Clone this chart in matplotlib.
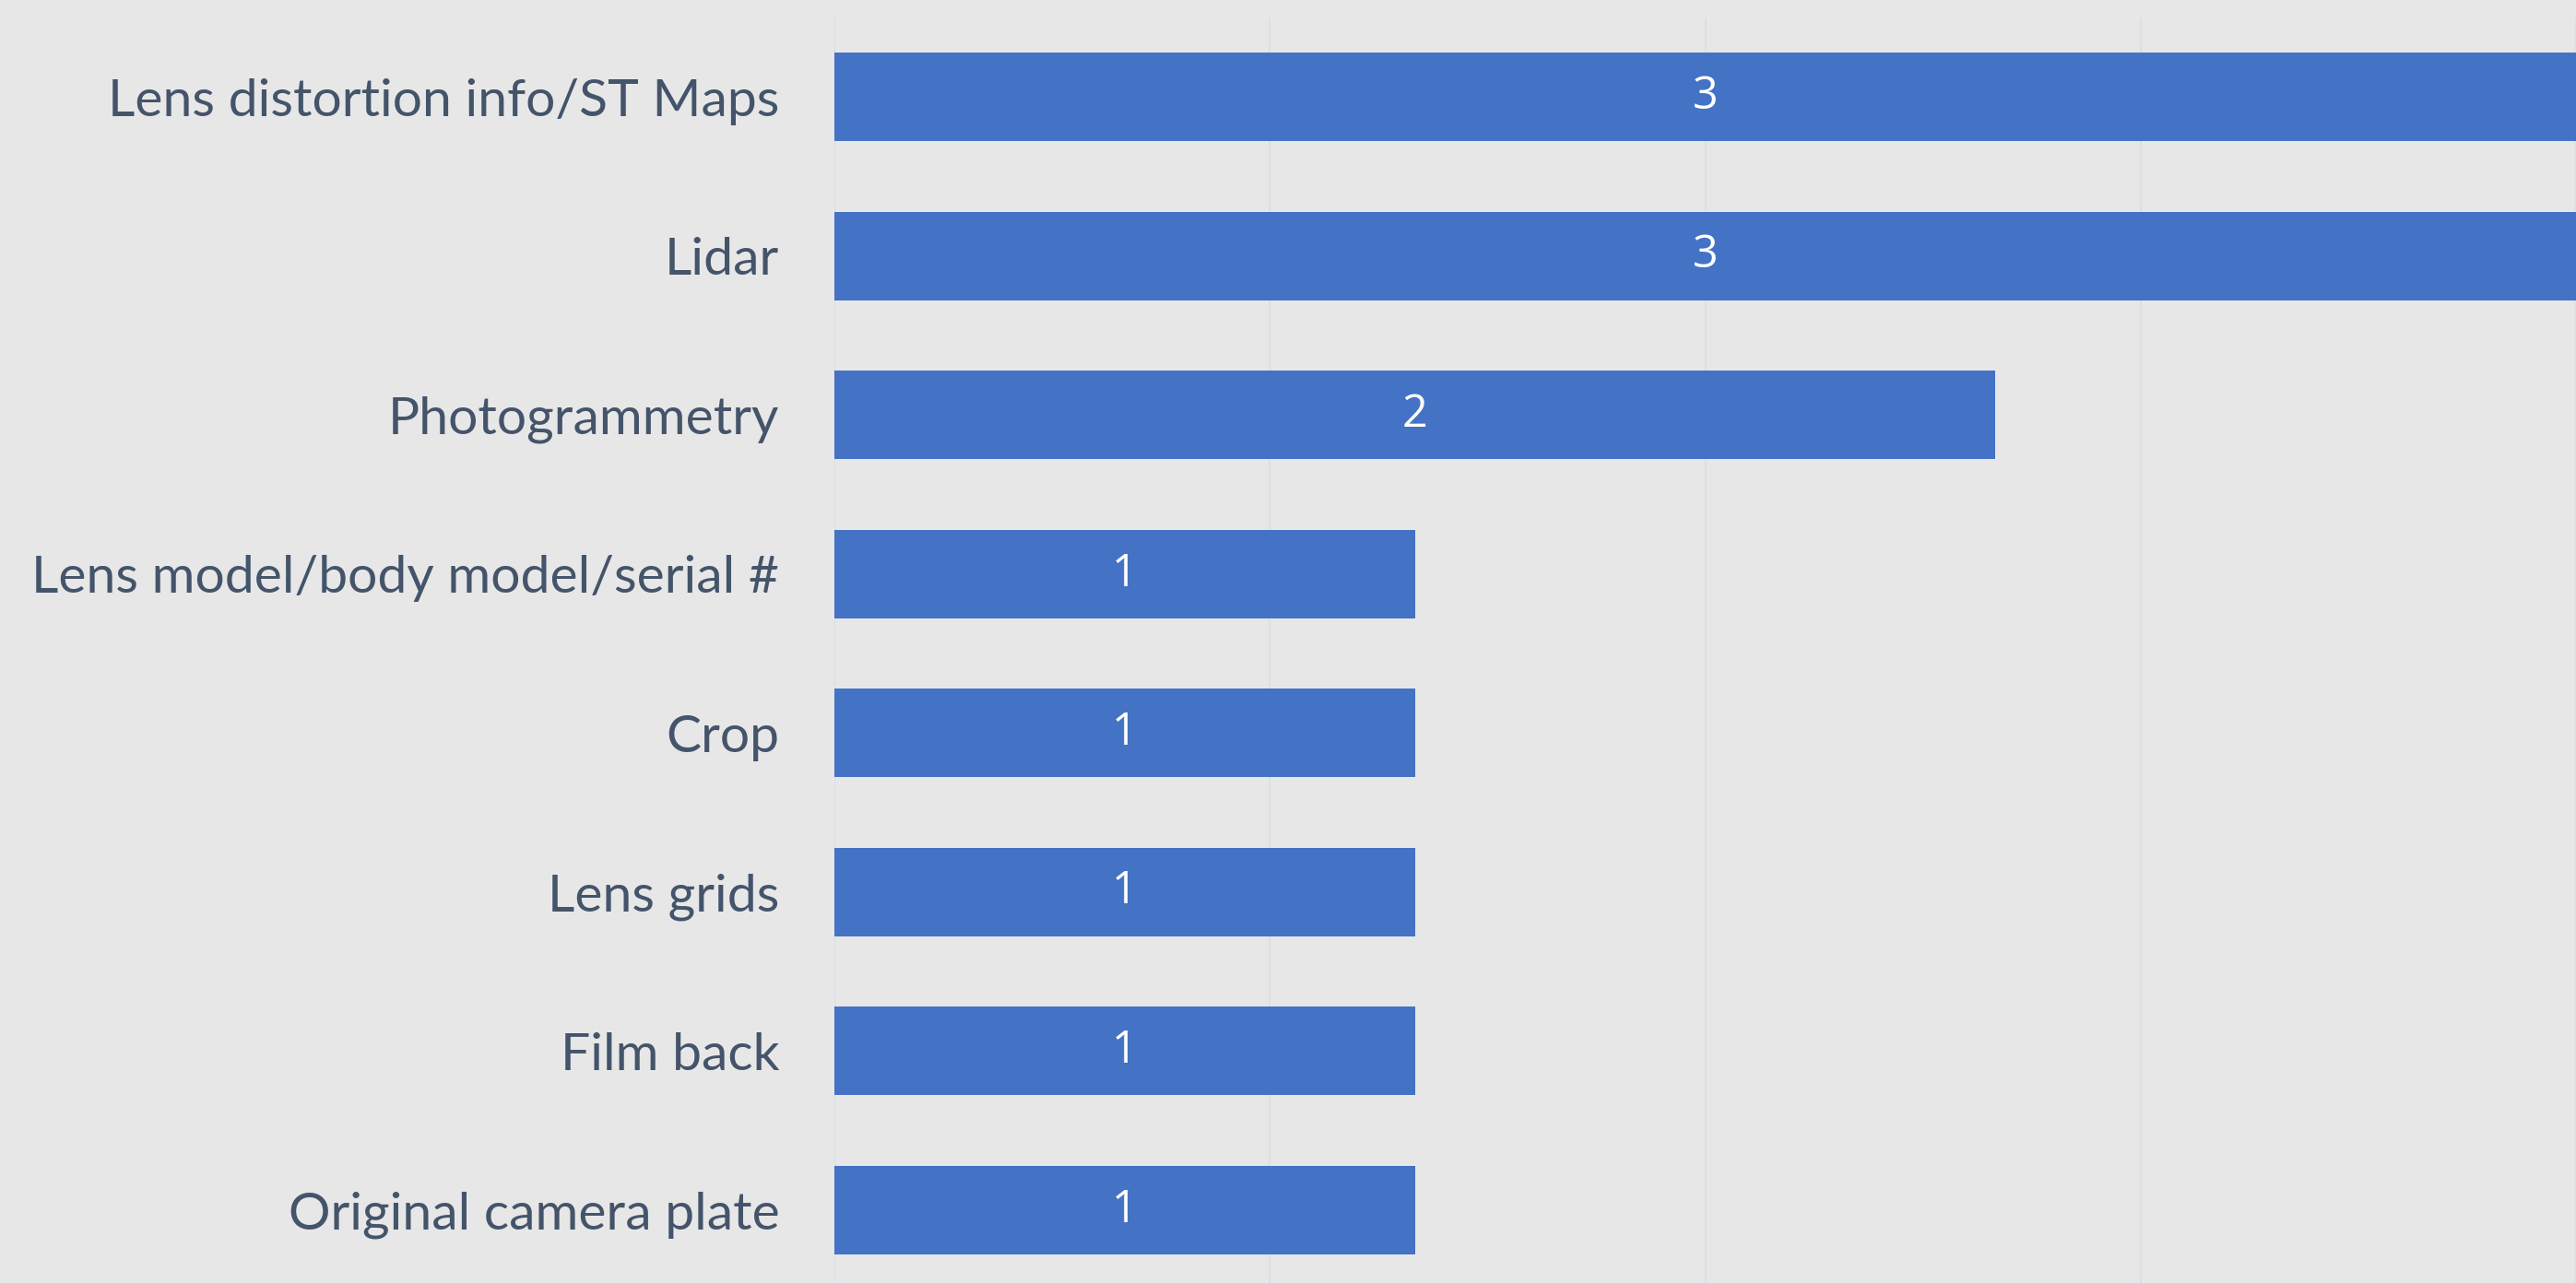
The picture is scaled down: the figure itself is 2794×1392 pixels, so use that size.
import matplotlib
matplotlib.use("Agg")
import matplotlib.pyplot as plt

categories = [
    "Lens distortion info/ST Maps",
    "Lidar",
    "Photogrammetry",
    "Lens model/body model/serial #",
    "Crop",
    "Lens grids",
    "Film back",
    "Original camera plate",
]
counts = [3, 3, 2, 1, 1, 1, 1, 1]
grid_ticks = [0, 0.75, 1.5, 2.25, 3.0]

BG = "#E7E7E7"
BAR = "#4472C4"
LABEL = "#44546A"
GRID = "#DCDFE5"

W, H = 2794, 1392
fig = plt.figure(figsize=(W / 100, H / 100), dpi=100, facecolor=BG)

left_px, top_px, pitch_px = 905, 19, 172.5
ax_h = pitch_px * len(categories)
ax = fig.add_axes([left_px / W, 1 - (top_px + ax_h) / H, 1 - left_px / W, ax_h / H])
ax.set_facecolor(BG)

ypos = list(range(len(categories)))
bars = ax.barh(ypos, counts, height=0.556, color=BAR, zorder=2)

ax.set_xlim(0, 3)
ax.set_ylim(len(categories) - 0.5, -0.5)
ax.set_xticks(grid_ticks)
ax.xaxis.grid(True, color=GRID, linewidth=1.5, zorder=0)
ax.tick_params(axis="x", length=0, labelbottom=False)
ax.tick_params(axis="y", length=0, pad=43)
ax.set_yticks(ypos)
ax.set_yticklabels(categories, fontsize=41, color=LABEL,
                   family=["Lato", "DejaVu Sans"], fontweight="normal")
for s in ax.spines.values():
    s.set_visible(False)

for b, v in zip(bars, counts):
    ax.text(v / 2, b.get_y() + b.get_height() / 2, str(v), ha="center", va="center",
            color="white", fontsize=35, family=["Open Sans", "DejaVu Sans"], zorder=3)

fig.savefig("out.png", dpi=100, facecolor=BG)
